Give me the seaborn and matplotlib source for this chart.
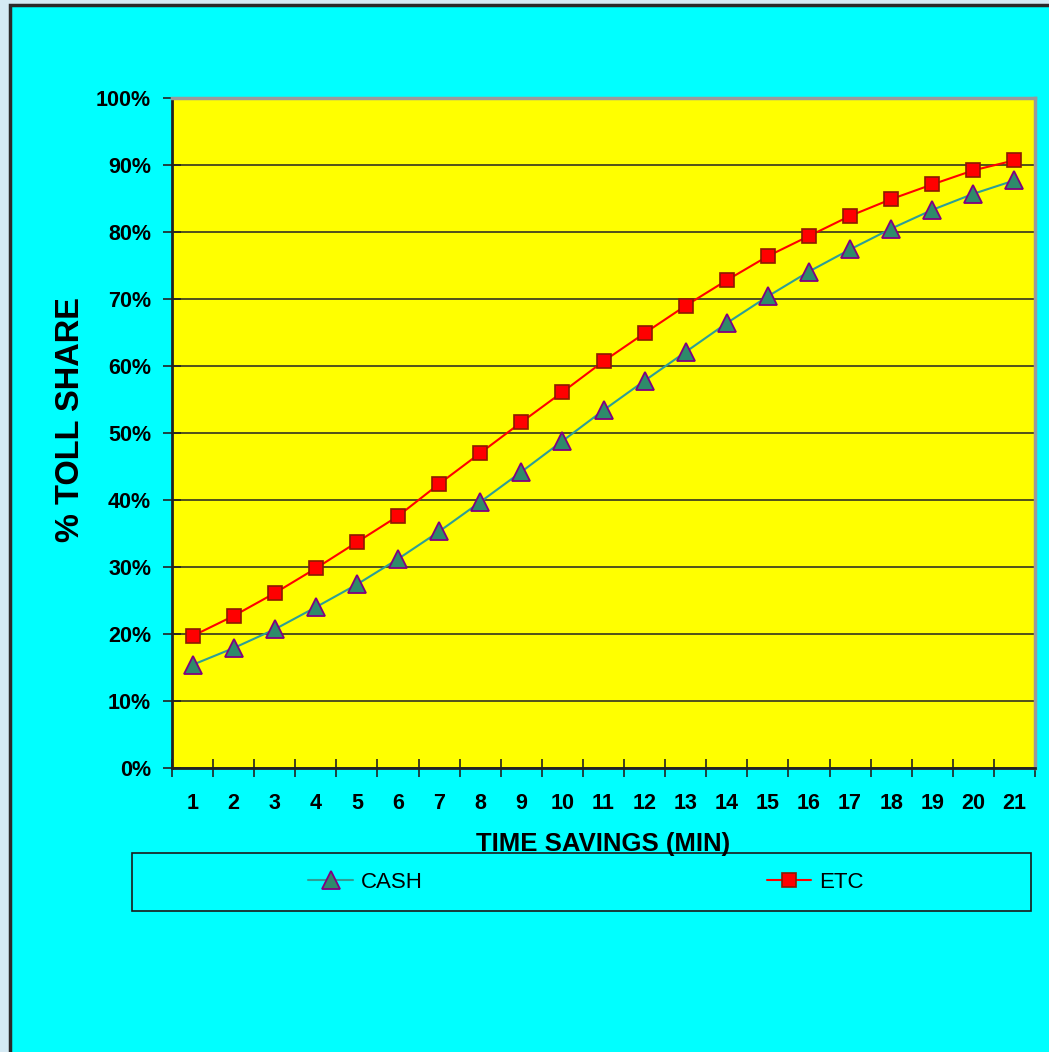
import matplotlib
matplotlib.use("Agg")
import matplotlib.pyplot as plt
from matplotlib.patches import Rectangle
from matplotlib.ticker import FixedLocator, PercentFormatter
import pandas as pd
import seaborn as sns

# values (percent toll share by time savings)
minutes = list(range(1, 22))
cash = [15.4, 17.9, 20.7, 24.0, 27.4, 31.2, 35.3, 39.7, 44.2, 48.8, 53.4,
        57.8, 62.1, 66.4, 70.4, 74.1, 77.4, 80.5, 83.3, 85.7, 87.7]
etc = [19.7, 22.7, 26.1, 29.8, 33.7, 37.6, 42.4, 47.0, 51.6, 56.1, 60.7,
       64.9, 69.0, 72.8, 76.4, 79.4, 82.4, 84.9, 87.1, 89.2, 90.7]
y_ticks = list(range(0, 101, 10))

df = pd.DataFrame({"minutes": minutes, "CASH": cash, "ETC": etc})

sns.set_style("white")
plt.rcParams["font.family"] = ["Liberation Sans", "DejaVu Sans"]
plt.rcParams["text.color"] = "black"
plt.rcParams["axes.labelcolor"] = "black"
plt.rcParams["xtick.color"] = "black"
plt.rcParams["ytick.color"] = "black"

fig = plt.figure(figsize=(10.49, 10.52), dpi=100, facecolor="#d4eaf4")

# cyan panel behind everything
fig.patches.append(Rectangle((10 / 1049, -0.02), 1.1, 1.02 - 5 / 1052,
                             transform=fig.transFigure, facecolor="#00ffff",
                             edgecolor="#2a2a2a", linewidth=2.5, zorder=-2))
# legend box
fig.patches.append(Rectangle((132 / 1049, 1 - 911 / 1052), 899 / 1049, 58 / 1052,
                             transform=fig.transFigure, facecolor="#00ffff",
                             edgecolor="#1a1a1a", linewidth=1.2, zorder=-1))

ax = fig.add_axes([172 / 1049, 1 - 768 / 1052, 863 / 1049, 670 / 1052])
ax.set_facecolor("#ffff00")

sns.lineplot(data=df, x="minutes", y="CASH", ax=ax, color="#2e9e96", linewidth=1.5,
             marker="^", markersize=13, markerfacecolor="#2e8b6a",
             markeredgecolor="#800080", markeredgewidth=1.3, label="CASH", zorder=3)
sns.lineplot(data=df, x="minutes", y="ETC", ax=ax, color="#ff0000", linewidth=1.5,
             marker="s", markersize=9.5, markerfacecolor="#ff0000",
             markeredgecolor="#8b1a00", markeredgewidth=1.2, label="ETC", zorder=3)

ax.set_xlim(0.5, 21.5)
ax.set_ylim(0, 100)

# y axis
ax.set_yticks(y_ticks)
ax.yaxis.set_major_formatter(PercentFormatter(decimals=0))
ax.grid(axis="y", color="#222222", linewidth=1.1)
ax.grid(axis="x", visible=False)
ax.set_axisbelow(True)

# x axis: ticks on category boundaries, labels at centres
ax.xaxis.set_major_locator(FixedLocator([m - 0.5 for m in minutes] + [21.5]))
ax.xaxis.set_minor_locator(FixedLocator(minutes))
ax.xaxis.set_major_formatter(plt.NullFormatter())
ax.xaxis.set_minor_formatter(plt.FixedFormatter([str(m) for m in minutes]))
ax.tick_params(axis="x", which="major", direction="inout", length=13, width=1.2,
               color="#222222", bottom=True)
ax.tick_params(axis="x", which="minor", length=0, pad=18, labelsize=15.5)
ax.tick_params(axis="y", direction="inout", length=13, width=1.2, color="#222222",
               left=True, pad=8.5, labelsize=15.5)
for lab in ax.get_xticklabels(minor=True) + ax.get_yticklabels():
    lab.set_fontweight("bold")

for side in ["left", "bottom"]:
    ax.spines[side].set_color("#222222")
    ax.spines[side].set_linewidth(2)
for side in ["top", "right"]:
    ax.spines[side].set_color("#9a9a9a")
    ax.spines[side].set_linewidth(2.5)

ax.set_xlabel("TIME SAVINGS (MIN)", fontsize=18.5, fontweight="bold", labelpad=13)
ax.set_ylabel("% TOLL SHARE", fontsize=23.5, fontweight="bold")
ax.yaxis.set_label_coords((86 - 172) / 863, (768 - 420) / 670)

ax.legend(loc="center", bbox_to_anchor=(586 / 1049, 1 - 882 / 1052),
          bbox_transform=fig.transFigure, ncol=2, frameon=False, fontsize=16,
          handlelength=2.0, handletextpad=0.35, columnspacing=15.5, markerscale=1.0)

fig.savefig("out.png", dpi=100, facecolor=fig.get_facecolor())
